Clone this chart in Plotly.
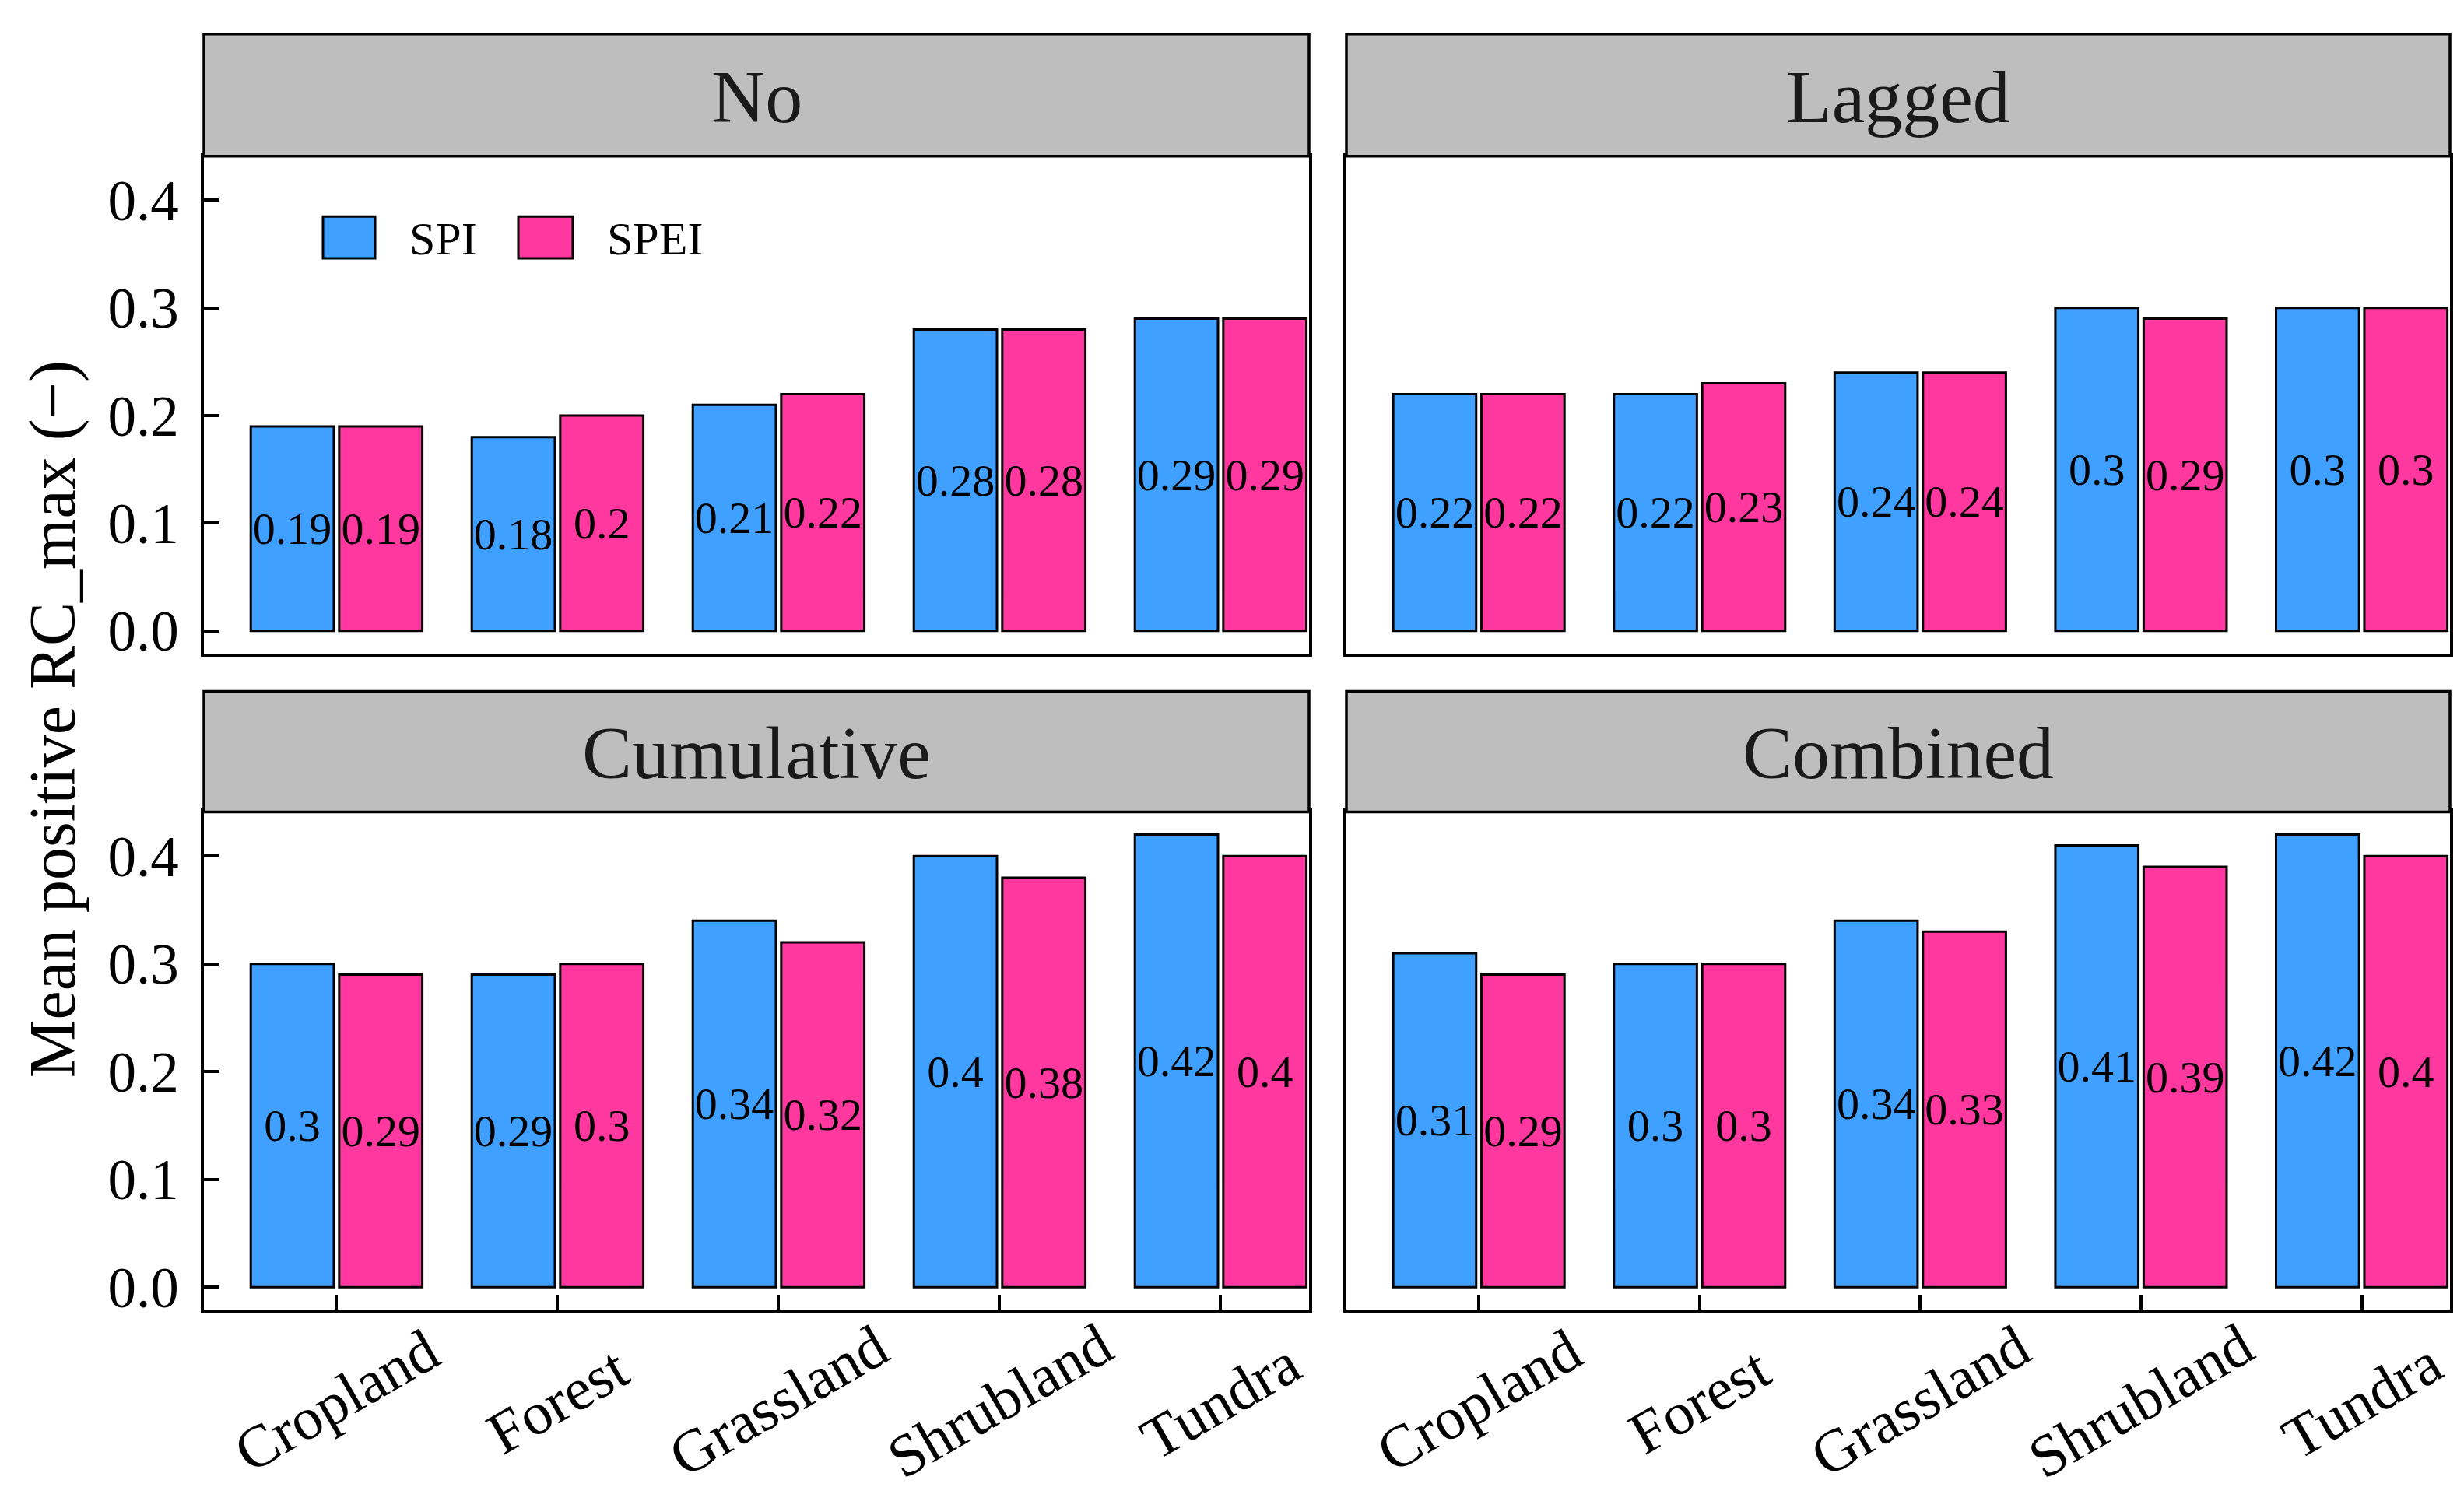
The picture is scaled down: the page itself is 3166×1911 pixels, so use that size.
import plotly.graph_objects as go

# ---------------- data ----------------
categories = ["Cropland", "Forest", "Grassland", "Shrubland", "Tundra"]
panels = ["No", "Lagged", "Cumulative", "Combined"]
series_names = ["SPI", "SPEI"]

no_spi = [0.19, 0.18, 0.21, 0.28, 0.29]
no_spei = [0.19, 0.20, 0.22, 0.28, 0.29]
lagged_spi = [0.22, 0.22, 0.24, 0.30, 0.30]
lagged_spei = [0.22, 0.23, 0.24, 0.29, 0.30]
cumulative_spi = [0.30, 0.29, 0.34, 0.40, 0.42]
cumulative_spei = [0.29, 0.30, 0.32, 0.38, 0.40]
combined_spi = [0.31, 0.30, 0.34, 0.41, 0.42]
combined_spei = [0.29, 0.30, 0.33, 0.39, 0.40]

y_ticks = [0.0, 0.1, 0.2, 0.3, 0.4]
y_title = "Mean positive RC_max (\u2212)"

panel_values = {
    "No": (no_spi, no_spei),
    "Lagged": (lagged_spi, lagged_spei),
    "Cumulative": (cumulative_spi, cumulative_spei),
    "Combined": (combined_spi, combined_spei),
}

# ---------------- style ----------------
W, H = 3166, 1911
FONT = "'Liberation Serif', 'Times New Roman', serif"
colors = {"SPI": "#40A0FF", "SPEI": "#FF38A0"}
LW = 3.5


def px_x(p):
    return p / W


def px_y(p):
    return 1 - p / H


xdom = {"L": [px_x(254), px_x(1674)], "R": [px_x(1722), px_x(3140)]}
ydom = {"T": [px_y(837), px_y(194)], "B": [px_y(1686), px_y(1042)]}
strip_y = {"T": [px_y(194), px_y(36)], "B": [px_y(1042), px_y(886)]}
strip_text_y = {"T": px_y(117), "B": px_y(966)}
layout_pos = {"No": ("L", "T"), "Lagged": ("R", "T"),
              "Cumulative": ("L", "B"), "Combined": ("R", "B")}

fig = go.Figure()
annotations = []
shapes = []

for i, pname in enumerate(panels):
    ax = "" if i == 0 else str(i + 1)
    xa, ya = "x" + ax, "y" + ax
    col, row = layout_pos[pname]
    vals = panel_values[pname]
    for sname, v in zip(series_names, vals):
        fig.add_trace(go.Bar(
            x=categories, y=v, name=sname, xaxis=xa, yaxis=ya,
            marker=dict(color=colors[sname], line=dict(color="black", width=3)),
            text=[f"{t:g}" for t in v],
            textposition="inside", insidetextanchor="middle",
            constraintext="none", textangle=0,
            textfont=dict(family=FONT, size=58, color="black"),
            insidetextfont=dict(family=FONT, size=58, color="black"),
            showlegend=False, hoverinfo="skip",
        ))
    bottom = row == "B"
    left = col == "L"
    fig.layout["xaxis" + ax] = dict(
        domain=xdom[col], anchor=ya, type="category",
        categoryorder="array", categoryarray=categories,
        range=[-0.6, 4.6 - 0.2], showgrid=False, zeroline=False,
        showline=True, mirror=True, linecolor="black", linewidth=LW,
        ticks="inside" if bottom else "", ticklen=20, tickwidth=LW, tickcolor="black",
        showticklabels=False, fixedrange=True,
    )
    fig.layout["yaxis" + ax] = dict(
        domain=ydom[row], anchor=xa, range=[-0.021, 0.441],
        tickvals=y_ticks, ticktext=[f"{t:.1f}" for t in y_ticks],
        showgrid=False, zeroline=False,
        showline=True, mirror=True, linecolor="black", linewidth=LW,
        ticks="inside" if left else "", ticklen=20, tickwidth=LW, tickcolor="black",
        showticklabels=left, ticklabelstandoff=14,
        tickfont=dict(family=FONT, size=73, color="black"), fixedrange=True,
    )
    # strip
    shapes.append(dict(type="rect", xref="paper", yref="paper",
                       x0=xdom[col][0], x1=xdom[col][1],
                       y0=strip_y[row][0], y1=strip_y[row][1],
                       fillcolor="#BEBEBE", line=dict(color="black", width=LW),
                       layer="above"))
    annotations.append(dict(text=pname, xref="paper", yref="paper",
                            x=(xdom[col][0] + xdom[col][1]) / 2, y=strip_text_y[row],
                            xanchor="center", yanchor="middle", showarrow=False,
                            font=dict(family=FONT, size=96, color="#1a1a1a")))
    # rotated x labels (centered under ticks)
    if bottom:
        for c in categories:
            annotations.append(dict(text=c, xref=xa, yref="paper", x=c, y=px_y(1803),
                                    xanchor="center", yanchor="middle", textangle=-30,
                                    showarrow=False,
                                    font=dict(family=FONT, size=77, color="black")))

# y-axis title
annotations.append(dict(text=y_title, xref="paper", yref="paper", x=px_x(60), y=px_y(922),
                        xanchor="center", yanchor="middle", textangle=-90, showarrow=False,
                        font=dict(family=FONT, size=84, color="black")))

# legend (drawn in the first panel)
key_boxes = {"SPI": (407, 474), "SPEI": (658, 728)}
text_left = {"SPI": 516, "SPEI": 770}
for sname in series_names:
    x0, x1 = key_boxes[sname]
    shapes.append(dict(type="rect", xref="paper", yref="paper",
                       x0=px_x(x0), x1=px_x(x1), y0=px_y(326), y1=px_y(272),
                       fillcolor=colors[sname], line=dict(color="black", width=3)))
    annotations.append(dict(text=sname, xref="paper", yref="paper",
                            x=px_x(text_left[sname]), y=px_y(301),
                            xanchor="left", yanchor="middle", showarrow=False,
                            font=dict(family=FONT, size=60, color="black")))

fig.update_layout(
    width=W, height=H, margin=dict(l=0, r=0, t=0, b=0),
    paper_bgcolor="white", plot_bgcolor="white",
    barmode="group", bargap=0.2, bargroupgap=0.06,
    shapes=shapes, annotations=annotations,
    font=dict(family=FONT, color="black"),
    showlegend=False,
)

fig.write_html("out.html")
